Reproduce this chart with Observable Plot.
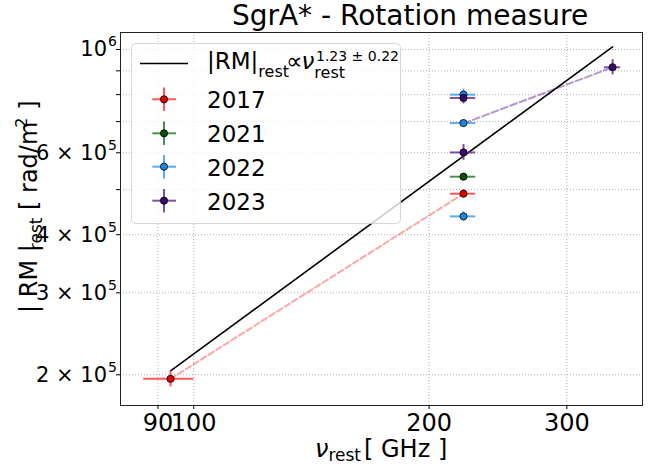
<!DOCTYPE html>
<html><head><meta charset="utf-8">
<script src="https://cdn.jsdelivr.net/npm/d3@7"></script>
<script src="https://cdn.jsdelivr.net/npm/@observablehq/plot@0.6"></script>
<style>
body{margin:0;background:#fff;font-family:"DejaVu Sans",sans-serif;}
#chart{position:relative;width:659px;height:470px;}
</style></head><body><div id="chart"></div>
<script>
// ---- data ----
const years = ["2017", "2021", "2022", "2023"];
const barColors = ["#ff3b3b", "#2e7d2e", "#3d9df2", "#6b2f9e"];
const dotColors = ["#e00000", "#0b4f0b", "#1f86e0", "#3c0a6c"];

const pointYear = ["2017", "2017", "2021", "2022", "2022", "2022", "2023", "2023", "2023"];
const pointNu   = [93.4, 221.3, 221.3, 221.3, 221.3, 221.3, 221.3, 221.3, 343.3];
const pointNuLo = [86.3, 212.9, 212.9, 212.9, 212.9, 212.9, 212.9, 212.9, 335.0];
const pointNuHi = [100.0, 229.4, 229.4, 229.4, 229.4, 229.4, 229.4, 229.4, 351.5];
const pointRm   = [1.96e5, 4.90e5, 5.33e5, 8.00e5, 6.95e5, 4.38e5, 7.87e5, 6.01e5, 9.16e5];
const pointRmLo = [1.884e5, 4.80e5, 5.25e5, 7.80e5, 6.84e5, 4.28e5, 7.64e5, 5.78e5, 8.82e5];
const pointRmHi = [2.039e5, 5.00e5, 5.41e5, 8.22e5, 7.06e5, 4.48e5, 8.11e5, 6.25e5, 9.51e5];

const fitNu = [93.4, 343.3];
const fitRm = [2.04e5, 1.013e6];

const link2017Nu = [93.4, 221.3];
const link2017Rm = [1.96e5, 4.90e5];
const link2023Nu = [221.3, 343.3];
const link2023Rm = [6.94e5, 9.16e5];

const xTicks = [90, 100, 200, 300];
const xTickLabels = ["90", "100", "200", "300"];
const yGrid = [2e5, 3e5, 4e5, 5e5, 6e5, 7e5, 8e5, 9e5, 1e6];
const yLabelTicks = [2e5, 3e5, 4e5, 6e5, 1e6];
const yLabelMain = ["2 × 10", "3 × 10", "4 × 10", "6 × 10", "10"];
const yLabelExp = ["5", "5", "5", "5", "6"];

// ---- build tables ----
const colorOf = y => barColors[years.indexOf(y)];
const dotOf = y => dotColors[years.indexOf(y)];
const points = pointYear.map((y, i) => ({
  year: y, nu: pointNu[i], nuLo: pointNuLo[i], nuHi: pointNuHi[i],
  rm: pointRm[i], rmLo: pointRmLo[i], rmHi: pointRmHi[i]
}));
const fit = fitNu.map((n, i) => ({nu: n, rm: fitRm[i]}));
const l17 = link2017Nu.map((n, i) => ({nu: n, rm: link2017Rm[i]}));
const l23 = link2023Nu.map((n, i) => ({nu: n, rm: link2023Rm[i]}));
const xLab = xTicks.map((v, i) => ({v, label: xTickLabels[i]}));

const gridStyle = {stroke: "#b0b0b0", strokeOpacity: 1, strokeWidth: 1, strokeDasharray: "1,2"};

const plot = Plot.plot({
  width: 659, height: 470,
  marginLeft: 120, marginRight: 17, marginTop: 32, marginBottom: 65,
  style: {fontFamily: "DejaVu Sans, sans-serif", fontSize: "24px", background: "white", color: "black", overflow: "visible"},
  x: {type: "log", domain: [80.6, 374.9], label: null},
  y: {type: "log", domain: [1.718e5, 1.088e6], label: null},
  color: {type: "identity"},
  marks: [
    Plot.gridX(xTicks, gridStyle),
    Plot.gridY(yGrid, gridStyle),
    Plot.line(l17, {x: "nu", y: "rm", stroke: colorOf("2017"), strokeOpacity: 0.45, strokeWidth: 2, strokeDasharray: "6,3"}),
    Plot.line(l23, {x: "nu", y: "rm", stroke: colorOf("2023"), strokeOpacity: 0.5, strokeWidth: 2, strokeDasharray: "7,3"}),
    Plot.line(fit, {x: "nu", y: "rm", stroke: "black", strokeWidth: 1.6}),
    Plot.ruleY(points, {y: "rm", x1: "nuLo", x2: "nuHi", stroke: d => colorOf(d.year), strokeWidth: 2, strokeOpacity: 0.85}),
    Plot.ruleX(points, {x: "nu", y1: "rmLo", y2: "rmHi", stroke: d => colorOf(d.year), strokeWidth: 2, strokeOpacity: 0.85}),
    Plot.dot(points, {x: "nu", y: "rm", r: 3.6, fill: d => dotOf(d.year), stroke: "black", strokeWidth: 0.8}),
    Plot.frame({stroke: "#222", strokeWidth: 1}),
    Plot.axisX(xTicks, {tickSize: 4, tickFormat: () => "", label: null}),
    Plot.text(xLab, {x: "v", frameAnchor: "bottom", dy: 8, lineAnchor: "top", text: "label", fontSize: 24}),
    Plot.axisY(yGrid, {tickSize: 4, tickFormat: () => "", label: null})
  ]
});
document.getElementById("chart").appendChild(plot);

const svg = d3.select(plot);
const yScale = plot.scale("y");

// y tick labels: mantissa × 10 with exponent
const yt = svg.append("g").attr("font-size", 21).attr("fill", "black");
yLabelTicks.forEach((v, i) => {
  const t = yt.append("text").attr("x", 117).attr("y", yScale.apply(v)).attr("dy", "0.35em")
    .attr("text-anchor", "end");
  t.append("tspan").text(yLabelMain[i]);
  t.append("tspan").attr("font-size", 14).attr("dx", 1).attr("dy", -10).text(yLabelExp[i]);
});

// title
svg.append("text").attr("x", 410).attr("y", 25).attr("text-anchor", "middle")
  .attr("font-size", 28).attr("fill", "black").text("SgrA* - Rotation measure");

// x label
const xl = svg.append("text").attr("x", 315).attr("y", 456.7).attr("text-anchor", "start")
  .attr("font-size", 24).attr("fill", "black");
xl.append("tspan").attr("font-style", "italic").text("ν");
xl.append("tspan").attr("font-size", 17).attr("dy", 4).text("rest");
xl.append("tspan").attr("dy", -4).attr("dx", 3).text("[ GHz ]");

// y label
const yl = svg.append("text").attr("transform", "translate(37,313) rotate(-90)")
  .attr("text-anchor", "start").attr("font-size", 24).attr("fill", "black");
yl.append("tspan").text("| RM |");
yl.append("tspan").attr("font-size", 17).attr("dy", 5).attr("dx", -6).text("rest");
yl.append("tspan").attr("dy", -5).text(" [ rad/m");
yl.append("tspan").attr("font-size", 16).attr("dy", -10).attr("dx", -6).text("2");
yl.append("tspan").attr("dy", 10).text(" ]");

// legend
const lg = svg.append("g").attr("text-anchor", "start");
lg.append("rect").attr("x", 131.5).attr("y", 43.5).attr("width", 269).attr("height", 180)
  .attr("rx", 4).attr("fill", "white").attr("fill-opacity", 0.8)
  .attr("stroke", "#cccccc").attr("stroke-opacity", 0.8);
lg.append("line").attr("x1", 140).attr("x2", 188).attr("y1", 63.5).attr("y2", 63.5)
  .attr("stroke", "black").attr("stroke-width", 1.6);
const l1 = lg.append("text").attr("x", 207).attr("y", 68.5).attr("font-size", 23).attr("fill", "black");
l1.append("tspan").text("|RM|");
l1.append("tspan").attr("font-size", 16).attr("dy", 8).text("rest");
l1.append("tspan").attr("dy", -8).attr("dx", -3).text("∝");
l1.append("tspan").attr("font-style", "italic").attr("dx", -1).text("ν");
l1.append("tspan").attr("font-size", 16).attr("dy", 9).text("rest");
l1.append("tspan").attr("font-size", 14).attr("dy", -17).attr("dx", -29).text("1.23 ± 0.22");

const entryY = [99.3, 133.3, 166.7, 200.7];
years.forEach((yr, i) => {
  const cy = entryY[i];
  lg.append("line").attr("x1", 152.3).attr("x2", 176).attr("y1", cy).attr("y2", cy)
    .attr("stroke", barColors[i]).attr("stroke-width", 2).attr("stroke-opacity", 0.85);
  lg.append("line").attr("x1", 164).attr("x2", 164).attr("y1", cy - 11.7).attr("y2", cy + 11.7)
    .attr("stroke", barColors[i]).attr("stroke-width", 2).attr("stroke-opacity", 0.85);
  lg.append("circle").attr("cx", 164).attr("cy", cy).attr("r", 3.6)
    .attr("fill", dotColors[i]).attr("stroke", "black").attr("stroke-width", 0.8);
  lg.append("text").attr("x", 207).attr("y", cy + 9).attr("font-size", 23).attr("fill", "black").text(yr);
});
</script></body></html>
